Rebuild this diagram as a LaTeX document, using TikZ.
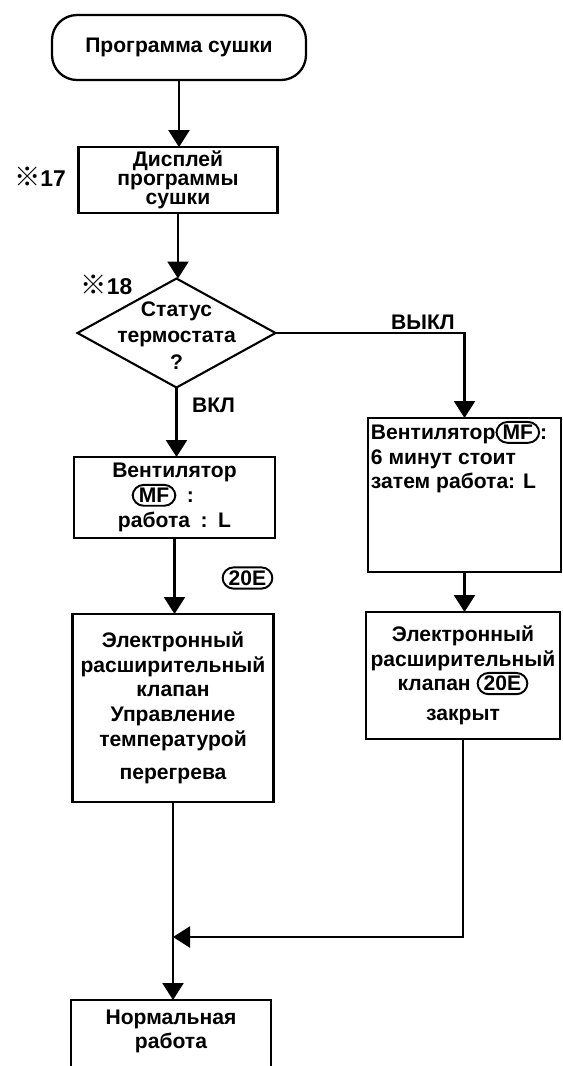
\documentclass[tikz,border=0pt]{standalone}
\usepackage{fontspec}
\setmainfont{Liberation Sans}
\newfontfamily\cjk{Noto Sans CJK JP}
\usetikzlibrary{arrows.meta,calc,positioning,shapes.geometric}

\tikzset{
    tagpill/.style={draw, line width=1.1pt, rounded corners=2.2mm,
        minimum width=0pt, minimum height=0pt,
        inner xsep=3.5pt, inner ysep=1.8pt, outer sep=0pt}
}
\newcommand{\pill}[1]{\tikz[baseline=(pl.base)]\node[tagpill] (pl) {#1};}

\begin{document}
\begin{tikzpicture}[
    x=1cm,
    y=1cm,
    font=\bfseries\fontsize{12}{14}\selectfont,
    >={Triangle[length=3.4mm, width=4.2mm]},
    terminal/.style={draw, line width=1.3pt, rounded corners=5mm,
        minimum width=5.08cm, minimum height=1.3cm, outer sep=0pt},
    box/.style={draw, line width=1.3pt, align=center, inner sep=2pt, outer sep=0pt},
    decision/.style={draw, diamond, line width=1.2pt, inner sep=0pt, outer sep=0pt,
        minimum width=3.96cm, minimum height=2.18cm},
    flow/.style={draw, line width=1.3pt, ->},
    refmark/.style={font=\bfseries\fontsize{13}{14}\selectfont}
]

\path[use as bounding box] (0,0) rectangle (11.26,-21.32);
\clip (0,0) rectangle (11.26,-21.32);

% Main column.
\node[terminal] (start) at (3.58,-0.95) {Программа сушки};
\node[box, minimum width=3.98cm, minimum height=1.28cm,
    font=\bfseries\fontsize{12}{11}\selectfont] (disp) at (3.56,-3.60)
    {Дисплей\\программы\\сушки};
\node[refmark] (n17) at (0.80,-3.54) {{\cjk\fontsize{15}{15}\selectfont ※}17};

\node[decision] (stat) at (3.53,-6.66) {};
\node[align=center, font=\bfseries\fontsize{12}{15}\selectfont] (stattext)
    at (3.53,-6.71) {Статус\\термостата\\?};
\node[refmark] (n18) at (2.13,-5.70) {{\cjk\fontsize{15}{15}\selectfont ※}18};

\node (off) at (8.46,-6.44) {ВЫКЛ};
\node (on) at (4.27,-8.10) {ВКЛ};

\node[box, minimum width=4.02cm, minimum height=1.62cm] (fanon) at (3.49,-9.95)
    {Вентилятор\\\pill{MF}\enspace:\hphantom{\enspace L}\\работа\enspace:\enspace L};
\node[tagpill] (evtag) at (4.95,-11.56) {20E};
\node[box, minimum width=4.02cm, minimum height=3.76cm] (exvon) at (3.46,-14.16)
    {Электронный\\расширительный\\клапан\\Управление\\температурой\\[5pt]перегрева};

% Right branch.
\node[box, minimum width=3.86cm, minimum height=3.08cm,
    label={[name=fanofftext, anchor=north west, align=left, inner sep=1.5pt]north west:%
        Вентилятор\pill{MF}:\\6 минут стоит\\затем работа: L}] (fanoff) at (9.29,-9.90) {};
\node[box, minimum width=3.88cm, minimum height=2.54cm] (exvoff) at (9.26,-13.51)
    {Электронный\\расширительный\\клапан \pill{20E}\\[3pt]закрыт};

% Merge and end.
\node[box, minimum width=4.0cm, minimum height=1.6cm, anchor=north,
    label={[name=normaltext, anchor=north, align=center, yshift=-2pt]north:Нормальная\\работа}]
    (normal) at (3.42,-20.00) {};
\coordinate (mergey) at (0,-18.74);
\coordinate (join) at (exvon.south |- mergey);

\draw[flow] (start) -- (start |- disp.north);
\draw[flow] (disp) -- (disp |- stat.north);
\draw[flow] (stat) -- (stat |- fanon.north);
\draw[flow] (fanon) -- (fanon |- exvon.north);
\draw[flow] (stat.east) -| (fanoff.north);
\draw[flow] (fanoff) -- (fanoff |- exvoff.north);
\draw[flow] (exvoff.south) |- (join);
\draw[flow] (exvon.south) -- (exvon.south |- normal.north);

\end{tikzpicture}
\end{document}
